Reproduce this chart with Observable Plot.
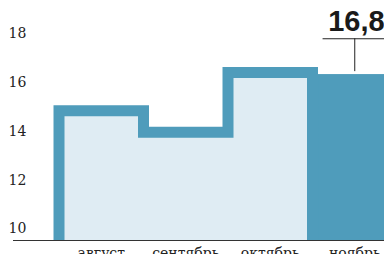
<!DOCTYPE html>
<html><head><meta charset="utf-8">
<script src="https://cdn.jsdelivr.net/npm/d3@7"></script>
<script src="https://cdn.jsdelivr.net/npm/@observablehq/plot@0.6"></script>
<style>html,body{margin:0;padding:0;background:#fff;overflow:hidden}</style>
</head><body><div id="chart"></div>
<script>
// Data
const months = ["август", "сентябрь", "октябрь", "ноябрь"];
const values = [14.85, 13.96, 16.42, 16.33];
const yTicks = [10, 12, 14, 16, 18];
const highlightLabel = "16,8";

const dark = "#4f9cbb", light = "#dfecf3";
const yMin = 9.52, yMax = 19.37;
const last = months.length - 1;
const pastIdx = months.map((m, i) => i).slice(0, last);

// step outline for past months
const stepPts = [{x: 0, y: yMin}, ...pastIdx.map(i => ({x: i, y: values[i]})), {x: last, y: yMin}];
// light fill
const areaPts = [...pastIdx.map(i => ({x: i, y: values[i]})), {x: last, y: values[last - 1]}];
// highlighted bar
const curBar = [{x1: last, x2: last + 1, y1: yMin, y2: values[last]}];

const calloutY = 17.8;
const chart = Plot.plot({
  width: 384, height: 254,
  marginLeft: 13, marginRight: 0, marginTop: 0, marginBottom: 14,
  style: {fontFamily: "DejaVu Serif", fontSize: "14px", color: "#222", background: "#fff"},
  x: {type: "linear", domain: [-0.5385, 3.852]},
  y: {domain: [yMin, yMax]},
  marks: [
    Plot.areaY(areaPts, {x: "x", y1: yMin, y2: "y", curve: "step-after", fill: light}),
    Plot.rect(curBar, {x1: "x1", x2: "x2", y1: "y1", y2: "y2", fill: dark}),
    Plot.line(stepPts, {x: "x", y: "y", curve: "step-after", stroke: dark, strokeWidth: 11, strokeLinejoin: "miter", strokeMiterlimit: 10, strokeLinecap: "butt"}),
    Plot.ruleY([yMin], {stroke: "#333", strokeWidth: 1.2}),
    Plot.ruleY([calloutY], {x1: last + 0.125, x2: last + 1, stroke: "#222", strokeWidth: 1}),
    Plot.ruleX([last + 0.5], {y1: values[last] + 0.12, y2: calloutY, stroke: "#222", strokeWidth: 1}),
    Plot.text([highlightLabel], {x: last + 0.52, y: 18.1, text: d => d, lineAnchor: "bottom", fontFamily: "Liberation Sans", fontWeight: "bold", fontSize: 29, fill: "#1a1a1a"}),
    Plot.axisY(yTicks, {anchor: "left", tickSize: 0, textAnchor: "start", dx: 4, label: null, fill: "#222"}),
    Plot.axisX(months.map((m, i) => i + 0.5), {anchor: "bottom", tickSize: 0, tickPadding: 8, tickFormat: d => months[Math.floor(d)], label: null, fill: "#222"})
  ]
});
document.getElementById("chart").appendChild(chart);
</script>
</body></html>
